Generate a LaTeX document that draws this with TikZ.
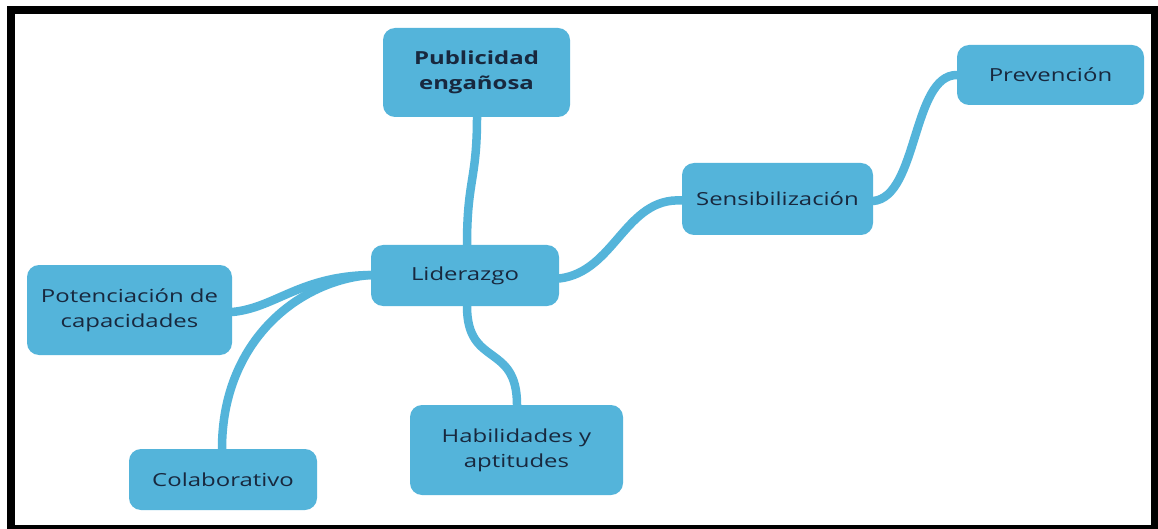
\documentclass[tikz,border=0pt]{standalone}
\usepackage{fontspec}
\setmainfont{Open Sans}[FakeStretch=1.33]
\usetikzlibrary{backgrounds}
\definecolor{mapblue}{RGB}{84,180,218}
\definecolor{maptext}{RGB}{24,40,62}
\tikzset{
  topic/.style={fill=mapblue, rounded corners=12pt, inner sep=0pt, align=center,
    text=maptext, font=\fontsize{18}{25}\selectfont},
  link/.style={draw=mapblue, line width=8.5pt, line cap=round}
}
\begin{document}
\begin{tikzpicture}[x=1pt,y=-1pt]
\useasboundingbox (0,0) rectangle (1158,529);
\node[topic, minimum width=187pt, minimum height=89pt, font=\fontsize{18}{25}\selectfont\bfseries] (pub) at (476.5,72.5) {Publicidad\\enga\~nosa};
\node[topic, minimum width=187pt, minimum height=60pt] (prev) at (1050.5,75) {Prevención};
\node[topic, minimum width=191pt, minimum height=72pt] (sens) at (777.5,199) {Sensibilización};
\node[topic, minimum width=188pt, minimum height=61pt] (lid) at (465,275.5) {Liderazgo};
\node[topic, minimum width=205pt, minimum height=90pt] (pot) at (129.5,310) {Potenciación de\\capacidades};
\node[topic, minimum width=188pt, minimum height=61pt] (col) at (223,479.5) {Colaborativo};
\node[topic, minimum width=213pt, minimum height=90pt] (hab) at (516.5,450) {Habilidades y\\aptitudes};
\begin{scope}[on background layer]
  \fill[black] (7,6) rectangle (1158,529);
  \fill[white] (15,14) rectangle (1151,525);
  \draw[link] ([xshift=2pt]lid.north) .. controls (467,180) and (477,180) .. ([xshift=0.5pt]pub.south);
  \draw[link] ([yshift=-3pt]lid.east) .. controls (615,272) and (625,197) .. ([yshift=-1.5pt]sens.west);
  \draw[link] ([yshift=-2pt]sens.east) .. controls (918,197) and (912,75) .. (prev.west);
  \draw[link] ([xshift=2pt]lid.south) .. controls (467,368) and (517,342) .. ([xshift=0.5pt]hab.north);
  \draw[link] ([yshift=0.5pt]lid.west) .. controls (300,276) and (275,308) .. ([yshift=-2pt]pot.east);
  \draw[link] ([yshift=0.5pt]lid.west) .. controls (300,280) and (222,340) .. ([xshift=-1pt]col.north);
\end{scope}
\end{tikzpicture}
\end{document}
